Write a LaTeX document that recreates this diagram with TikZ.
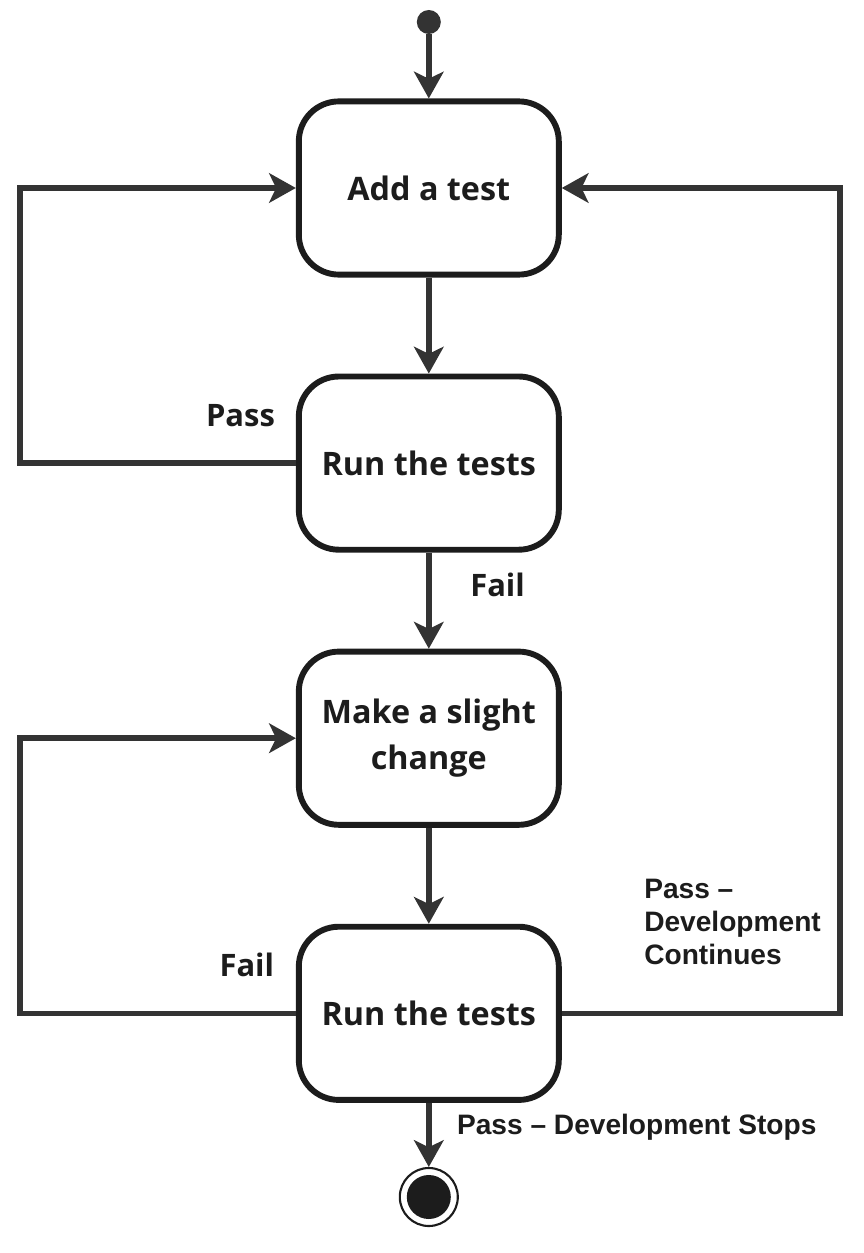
\documentclass[tikz,border=0pt]{standalone}
\usepackage{fontspec}
\setmainfont{Open Sans}
\newfontfamily\labelfont{Liberation Sans}
\usetikzlibrary{positioning,arrows.meta}
\definecolor{myline}{RGB}{51,51,51}
\definecolor{myblack}{RGB}{28,28,28}

\tikzset{
    activity/.style={draw=myblack, line width=4.2pt, rounded corners=1cm,
        fill=white, minimum width=6.5cm, minimum height=4.33cm,
        align=center, font=\fontsize{23}{32.5}\selectfont\bfseries, text=myblack},
    flow/.style={draw=myline, line width=4pt,
        -{Stealth[length=19pt, width=21pt, inset=5pt]}},
    guard/.style={font=\fontsize{22}{26}\selectfont\bfseries, text=myblack, inner sep=0pt},
    note/.style={font=\labelfont\fontsize{20}{23.5}\selectfont\bfseries, text=myblack, inner sep=0pt}
}

\begin{document}
\begin{tikzpicture}[node distance=2.4cm]
    \useasboundingbox (0, 0) rectangle (21.6, -31.325);
    % Activities
    \node[activity] (add) at (10.72, -4.7) {Add a test};
    \node[activity, below=of add] (run1) {Run the tests};
    \node[activity, below=of run1] (change) {Make a slight\\change};
    \node[activity, below=of change] (run2) {Run the tests};
    % Initial and final states
    \node[circle, fill=myline, minimum size=0.6cm, inner sep=0pt] (start) at (add |- 0, -0.55) {};
    \node[circle, draw=myblack, line width=1.5pt, fill=white, minimum size=1.45cm, inner sep=0pt] (stop) at (add |- 0, -29.925) {};
    \node[circle, fill=myblack, minimum size=1.1cm, inner sep=0pt] (stopdot) at (stop) {};
    % Loop columns
    \coordinate (loopl) at (0.5, 0);
    \coordinate (loopr) at (21, 0);
    % Transitions
    \draw[flow] (start) -- (add);
    \draw[flow] (add) -- (run1);
    \draw[flow] (run1) -- (change);
    \draw[flow] (change) -- (run2);
    \draw[flow] (run2) -- (stop);
    \draw[flow] (run1.west) -- (run1.west -| loopl) |- (add.west);
    \draw[flow] (run2.west) -- (run2.west -| loopl) |- (change.west);
    \draw[flow] (run2.east) -- (run2.east -| loopr) |- (add.east);
    % Guards
    \node[guard, anchor=east] (passa) at (6.88, -10.4) {Pass};
    \node[guard, anchor=west] (faila) at (11.75, -14.63) {Fail};
    \node[guard, anchor=east] (failb) at (6.86, -24.13) {Fail};
    \node[note, anchor=west, align=left] (passb) at (16.1, -23.05) {Pass –\\Development\\Continues};
    \node[note, anchor=west] (passc) at (11.42, -28.18) {Pass – Development Stops};
\end{tikzpicture}
\end{document}
